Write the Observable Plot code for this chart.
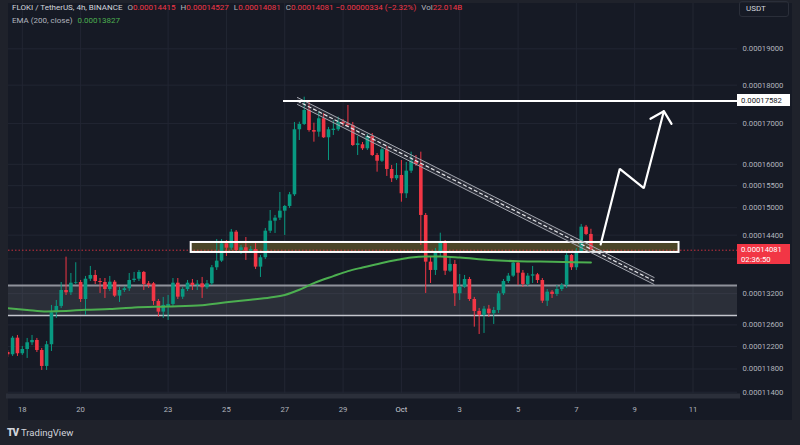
<!DOCTYPE html>
<html>
<head>
<meta charset="utf-8">
<script src="https://cdn.jsdelivr.net/npm/d3@7"></script>
<script src="https://cdn.jsdelivr.net/npm/@observablehq/plot@0.6"></script>
<style>
html,body{margin:0;padding:0;}
body{width:800px;height:445px;background:#1f222b;position:relative;overflow:hidden;font-family:Roboto,"Noto Sans",sans-serif;}
#pane{position:absolute;left:8px;top:3px;width:784px;height:417px;background:#161a25;}
#pane svg{display:block;}
.lg{position:absolute;left:12px;font-size:8px;line-height:10px;white-space:nowrap;color:#b2b5be;}
.lg .t{color:#d1d4dc;}
.lg .r{color:#f23645;}
.lg .g{color:#4caf50;}
.lg .k{margin-left:5px;}
#usdt{position:absolute;left:739px;top:1px;width:50px;height:16px;border:1px solid #2a2e39;border-radius:3px;box-sizing:border-box;font-size:8px;line-height:14px;color:#d1d4dc;padding-left:6px;}
.plabel{position:absolute;left:737px;width:53px;font-size:7.7px;box-sizing:border-box;padding-left:4px;}
#logo{position:absolute;left:7px;top:427px;font-size:9.5px;color:#d1d4dc;white-space:nowrap;}
#logo b{font-weight:900;letter-spacing:-1px;margin-right:3px;font-size:10px;}
</style>
</head>
<body>
<div id="pane"></div>
<div class="lg" id="lg1" style="top:3px"></div>
<div class="lg" id="lg2" style="top:15.5px"></div>
<div id="usdt">USDT</div>
<div id="logo"><b>TV</b>TradingView</div>
<script>
// prices stored in units of 1e-8 USDT
const SCALE = 1e-8;
const BAR_MS = 4 * 3600 * 1000;
const BAR0 = Date.UTC(2024, 8, 18); // Sep 18 00:00 = bar index 0

const barIndex = d3.range(-3, 118);
const opens = [12094,12053,12354,12071,12148,12270,12312,12130,11845,12234,12830,12951,13262,13217,13407,13421,13086,13487,13562,13441,13421,13282,13427,13151,13262,13296,13461,13487,13623,13395,13395,13048,12842,12951,12990,13407,13131,13282,13407,13361,13395,13316,13395,13718,13854,14216,14124,14464,14075,14132,14061,14096,13731,13924,14485,14703,14769,14923,15028,15291,16844,16977,17334,16826,16784,17122,16644,16826,16844,17035,16995,16952,16455,16472,16374,16677,16212,16074,16350,15878,15660,15737,15314,15838,16074,15996,14828,13833,13663,14040,14250,13649,13786,13198,13328,13481,13086,12855,12779,12899,12811,12874,13198,13441,13548,13813,13608,13381,13548,13575,13461,13053,13229,13184,13282,13361,13972,13718,14040,14572,14415];
const highs = [12130,12386,12404,12203,12349,12404,12349,12166,12294,12971,13067,13421,13936,13602,13821,13461,13542,13745,13663,13501,13501,13542,13461,13321,13341,13602,13623,13663,13643,13441,13421,13086,13126,13164,13501,13501,13321,13461,13481,13461,13522,13461,13765,14307,14307,14286,14522,14500,14181,14350,14160,14223,13972,14544,14938,14828,15344,15050,15344,17028,17035,17681,17550,17010,17290,17257,16902,17078,17163,17104,17464,17028,16677,16528,16726,16751,16260,16406,16431,15973,16020,16091,16044,16292,16212,16292,14872,13936,14117,14442,14286,13910,13868,13582,13562,13522,13126,12913,12951,12971,12932,13243,13481,13602,13848,13827,13663,13602,13745,13602,13501,13282,13262,13361,13401,14013,13992,14117,14631,14609,14527];
const lows = [12005,12023,12023,12041,11987,12221,12094,11775,11775,12112,12722,12913,13164,13164,13381,13028,12779,13441,13381,13204,13106,13242,13126,13028,13223,13242,13421,13441,13262,13302,12971,12747,12722,12684,12951,13086,13086,13242,13262,13262,13106,13282,13361,13663,13827,13951,14075,14013,13992,13868,14013,13684,13522,13889,14436,14436,14718,14393,14983,15253,16577,16952,16784,16536,16659,16627,16091,16702,16801,16927,16902,16431,16212,16333,16333,16188,15814,16044,15714,15574,15620,15124,15207,15784,15949,14181,13204,13401,13562,13951,13562,13623,12951,13067,13302,13048,12558,12422,12441,12741,12609,12817,13164,13401,13522,13361,13321,13341,13401,13401,13009,12951,13106,13145,13242,13302,13663,13663,14013,14393,14081];
const closes = [12053,12354,12071,12148,12270,12312,12130,11845,12234,12830,12951,13262,13217,13407,13421,13086,13487,13562,13441,13421,13282,13427,13151,13262,13296,13461,13487,13623,13381,13361,13048,12842,12971,12990,13407,13131,13282,13407,13361,13387,13316,13395,13718,13854,14216,14124,14464,14075,14132,14061,14096,13731,13924,14485,14703,14769,14923,15028,15291,16844,16977,17334,16826,16784,17122,16644,16844,16859,17035,16995,16952,16455,16496,16374,16677,16212,16074,16350,15878,15660,15737,15314,15838,16074,15996,14828,13833,13663,14040,14250,13649,13786,13198,13328,13481,13086,12855,12779,12899,12811,12874,13198,13441,13548,13813,13608,13381,13548,13575,13461,13053,13229,13184,13282,13361,13972,13718,14040,14572,14415,14081];

// EMA(200, close) read at selected bars
const emaBars = [-3,1,5,9,13,18,23,30,37,42,47,51,54,57,60,64,67,70,74,77,80,83,86,90,96,102,109,117];
const emaValues = [12918,12884,12855,12864,12888,12900,12932,12951,12976,13032,13081,13126,13174,13276,13407,13548,13649,13724,13817,13878,13930,13951,13951,13930,13880,13852,13841,13827];

// axis ticks (13900 grid line only: its label sits under the live price tag)
const yGrid = [19000,18000,17000,16000,15500,15000,14400,13900,13200,12600,12200,11800,11400];
const yTicks = [19000,18000,17000,16000,15500,15000,14400,13200,12600,12200,11800,11400];
const xTickDates = ["2024-09-18","2024-09-20","2024-09-23","2024-09-25","2024-09-27","2024-09-29","2024-10-01","2024-10-03","2024-10-05","2024-10-07","2024-10-09","2024-10-11"];
const xTickLabels = ["18","20","23","25","27","29","Oct","3","5","7","9","11"];

// drawings
const supportZone = [12778, 13361];
const resistanceBox = {x1: "2024-09-23T19:00Z", x2: "2024-10-10T12:30Z", lo: 14034, hi: 14244};
const targetLevel = 17582, targetStart = "2024-09-26T23:00Z";
const channelDates = ["2024-09-27T10:30Z", "2024-10-09T16:00Z"];
const channelUpper = [17672, 13521];
const channelLower = [17489, 13381];
const channelMid = [17580, 13451];
const arrowDates = ["2024-10-07T20:00Z","2024-10-08T11:45Z","2024-10-09T07:30Z","2024-10-10T00:00Z"];
const arrowPrices = [14202, 15894, 15442, 17316];
const headDates = ["2024-10-09T13:00Z","2024-10-10T00:00Z","2024-10-10T06:20Z"];
const headPrices = [17121, 17316, 16994];
const lastPrice = 14081, countdown = "02:36:50";

const GREEN = "#089981", RED = "#f23645";
const candles = barIndex.map((k, i) => ({
  date: new Date(BAR0 + k * BAR_MS),
  open: opens[i] * SCALE, high: highs[i] * SCALE, low: lows[i] * SCALE, close: closes[i] * SCALE
}));
const ema = emaBars.map((k, i) => ({date: new Date(BAR0 + k * BAR_MS), v: emaValues[i] * SCALE}));
const channel = channelDates.map((d, i) => ({date: new Date(d), up: channelUpper[i] * SCALE, lo: channelLower[i] * SCALE, mid: channelMid[i] * SCALE}));
const arrow = arrowDates.map((d, i) => ({date: new Date(d), p: arrowPrices[i] * SCALE}));
const head = headDates.map((d, i) => ({date: new Date(d), p: headPrices[i] * SCALE}));
const xTicks = xTickDates.map(d => new Date(d + "T00:00Z"));
const xLab = xTicks.map((d, i) => ({date: d, label: xTickLabels[i]}));
const box = {x1: new Date(resistanceBox.x1), x2: new Date(resistanceBox.x2), y1: resistanceBox.lo * SCALE, y2: resistanceBox.hi * SCALE};
const col = d => d.close >= d.open ? GREEN : RED;

const chart = Plot.plot({
  width: 784, height: 417,
  marginLeft: 0, marginRight: 55, marginTop: 0, marginBottom: 27,
  style: {background: "transparent", color: "#b2b5be", fontFamily: "Roboto, sans-serif", fontSize: "7.7px", overflow: "visible"},
  x: {type: "utc", domain: [new Date("2024-09-18T00:00Z"), new Date("2024-10-11T00:00Z")], range: [13.8, 684.5], axis: null},
  y: {type: "log", domain: [11400 * SCALE, 19000 * SCALE], range: [388.7, 45.3], axis: null},
  marks: [
    Plot.gridY(yGrid.map(v => v * SCALE), {stroke: "#222633", strokeOpacity: 1}),
    Plot.gridX(xTicks, {stroke: "#222633", strokeOpacity: 1}),
    Plot.frame({anchor: "bottom", stroke: "#2b2f3a", strokeWidth: 5, dy: 2.5}),
    Plot.rect([0], {y1: supportZone[0] * SCALE, y2: supportZone[1] * SCALE, fill: "#787b86", fillOpacity: 0.22}),
    Plot.ruleY([supportZone[1] * SCALE], {stroke: "#8f929b", strokeWidth: 2}),
    Plot.ruleY([supportZone[0] * SCALE], {stroke: "#c4c6cd", strokeWidth: 1.5}),
    Plot.rect([box], {x1: "x1", x2: "x2", y1: "y1", y2: "y2", fill: "#4b4628", clip: true}),
    Plot.ruleY([lastPrice * SCALE], {stroke: RED, strokeDasharray: "1.5,2", strokeWidth: 1, strokeOpacity: 0.8}),
    Plot.ruleX(candles, {x: "date", y1: "low", y2: "high", stroke: col, strokeWidth: 1, clip: true}),
    Plot.ruleX(candles, {x: "date", y1: "open", y2: "close", stroke: col, strokeWidth: 3.6, clip: true}),
    Plot.rect([box], {x1: "x1", x2: "x2", y1: "y1", y2: "y2", fill: "none", stroke: "#ffffff", strokeWidth: 2, clip: true}),
    Plot.line(ema, {x: "date", y: "v", stroke: "#4caf50", strokeWidth: 2, curve: "monotone-x", clip: true}),
    Plot.areaY(channel, {x: "date", y1: "lo", y2: "up", fill: "#787b86", fillOpacity: 0.18}),
    Plot.line(channel, {x: "date", y: "up", stroke: "#a3a6af", strokeWidth: 1}),
    Plot.line(channel, {x: "date", y: "lo", stroke: "#a3a6af", strokeWidth: 1}),
    Plot.line(channel, {x: "date", y: "mid", stroke: "#e6e7ea", strokeWidth: 1.2, strokeDasharray: "3,3"}),
    Plot.ruleY([targetLevel * SCALE], {x1: new Date(targetStart), x2: new Date("2024-10-14T00:00Z"), stroke: "#ffffff", strokeWidth: 2, clip: true}),
    Plot.line(arrow, {x: "date", y: "p", stroke: "#ffffff", strokeWidth: 2.2, strokeLinejoin: "miter"}),
    Plot.line(head, {x: "date", y: "p", stroke: "#ffffff", strokeWidth: 2.2, strokeLinejoin: "miter"}),
    Plot.axisY(yTicks.map(v => v * SCALE), {anchor: "right", tickSize: 0, tickPadding: 5, tickFormat: d => d.toFixed(8), fill: "#b2b5be", fontSize: 7.7}),
    Plot.text(xLab, {x: "date", text: "label", frameAnchor: "bottom", dy: 18, fontSize: 7.7,
      fill: d => d.label === "Oct" ? "#d1d4dc" : "#b2b5be", fontWeight: d => d.label === "Oct" ? 700 : 400})
  ]
});
document.getElementById("pane").appendChild(chart);

// legend built from the last bar
const n = opens.length - 1;
const fmt = v => (v * SCALE).toFixed(8);
const chg = closes[n] - closes[n - 1];
const pct = chg / closes[n - 1] * 100;
const minus = "\u2212";
document.getElementById("lg1").innerHTML =
  `<span class="t">FLOKI / TetherUS, 4h, BINANCE</span>` +
  `<span class="k">O</span><span class="r">${fmt(opens[n])}</span>` +
  `<span class="k">H</span><span class="r">${fmt(highs[n])}</span>` +
  `<span class="k">L</span><span class="r">${fmt(lows[n])}</span>` +
  `<span class="k">C</span><span class="r">${fmt(closes[n])} ${chg < 0 ? minus : "+"}${fmt(Math.abs(chg))} (${chg < 0 ? minus : "+"}${Math.abs(pct).toFixed(2)}%)</span>` +
  `<span class="k">Vol</span><span class="r">22.014B</span>`;
document.getElementById("lg2").innerHTML =
  `EMA (200, close)<span class="g" style="margin-left:5px">${fmt(emaValues[emaValues.length - 1])}</span>`;

// price labels on the right axis, placed with the y scale
const ys = chart.scale("y");
function addLabel(value, lines, bg, fg) {
  const h = lines.length > 1 ? 20 : 12;
  const yc = 3 + ys.apply(value * SCALE);
  const d = document.createElement("div");
  d.className = "plabel";
  d.style.top = (yc - 6) + "px";
  d.style.height = h + "px";
  d.style.background = bg;
  d.style.color = fg;
  d.style.lineHeight = "9.5px";
  d.style.paddingTop = "1.5px";
  d.innerHTML = lines.join("<br>");
  document.body.appendChild(d);
}
addLabel(targetLevel, [fmt(targetLevel)], "#ffffff", "#131722");
addLabel(lastPrice, [fmt(lastPrice), countdown], RED, "#ffffff");
</script>
</body>
</html>
